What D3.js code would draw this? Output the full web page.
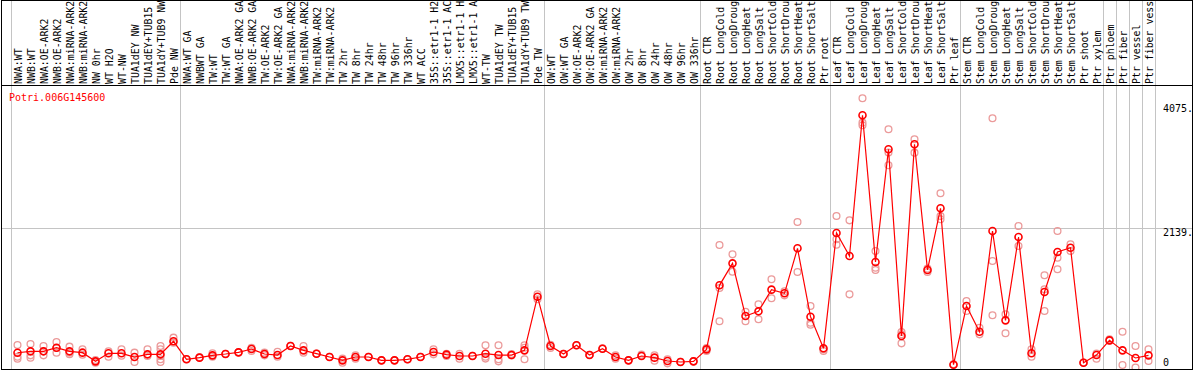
<!DOCTYPE html>
<html><head><meta charset="utf-8">
<script src="https://cdn.jsdelivr.net/npm/d3@7"></script>
<style>
html,body{margin:0;padding:0;background:#fff;}
svg{display:block;}
text{font-family:"DejaVu Sans Mono",monospace;}
</style></head>
<body>
<script>
const title = "Potri.006G145600";
const categories = ["NWA:WT","NWB:WT","NWA:OE-ARK2","NWB:OE-ARK2","NWA:miRNA-ARK2","NWB:miRNA-ARK2","NW 0hr","WT H2O","WT-NW","TUA1dEY NW","TUA1dEY+TUB15","TUA1dY+TUB9 NW","Pde NW",
"NWA:WT GA","NWBWT GA","TW:WT","TW:WT GA","NWA:OE-ARK2 GA","NWB:OE-ARK2 GA","TW:OE-ARK2","TW:OE-ARK2 GA","NWA:miRNA-ARK2","NWB:miRNA-ARK2","TW:miRNA-ARK2","TW:miRNA-ARK2","TW 2hr","TW 8hr","TW 24hr","TW 48hr","TW 96hr","TW 336hr","WT ACC","35S::etr1-1 H2","35S::etr1-1 AC","LMX5::etr1-1 H","LMX5::etr1-1 A","WT-TW","TUA1dEY TW","TUA1dEY+TUB15","TUA1dY+TUB9 TW","Pde TW",
"OW:WT","OW:WT GA","OW:OE-ARK2","OW:OE-ARK2 GA","OW:miRNA-ARK2","OW:miRNA-ARK2","OW 2hr","OW 8hr","OW 24hr","OW 48hr","OW 96hr","OW 336hr",
"Root CTR","Root LongCold","Root LongDroug","Root LongHeat","Root LongSalt","Root ShortCold","Root ShortDrou","Root ShortHeat","Root ShortSalt","Ptr root",
"Leaf CTR","Leaf LongCold","Leaf LongDroug","Leaf LongHeat","Leaf LongSalt","Leaf ShortCold","Leaf ShortDrou","Leaf ShortHeat","Leaf ShortSalt","Ptr leaf",
"Stem CTR","Stem LongCold","Stem LongDroug","Stem LongHeat","Stem LongSalt","Stem ShortCold","Stem ShortDrou","Stem ShortHeat","Stem ShortSalt","Ptr shoot","Ptr xylem",
"Ptr phloem","Ptr fiber","Ptr vessel","Ptr fiber vess"];
const groupSizes = [13, 28, 12, 10, 10, 11, 1, 1, 1, 1];
const means = [192,214,214,271,214,193,57,183,183,125,167,167,371,
89,115,151,172,198,250,172,156,297,229,177,125,73,125,125,73,73,89,125,203,162,141,141,177,156,156,229,1069,
297,172,308,156,255,125,73,141,115,63,47,57,
245,1247,1591,767,840,1179,1122,1826,756,261,
2066,1706,3908,1612,3376,454,3454,1487,2452,5,
923,521,2097,699,2003,183,1142,1768,1836,36,156,
386,229,110,151];
const replicates = [[313,130,99],[329,151,115],[297,214,151],[360,193,265],[287,192,170],[245,162],[78,36],[214,130],[245,146],[193,47],[245,140],[297,245,140,89,47],[428,350],
[89,95],[115,120],[183,130],[172,175],[198,200],[270,219],[193,151],[208,130],[297,300],[297,193],[177,180],[125,130],[99,36],[151,99],[125,130],[73,75],[73,75],[89,90],[125,130],[245,167],[177,141],[177,99],[141,145],[308,130,100],[308,89,57],[172,150],[308,270,89],[1106,1030],
[318,266],[172,175],[308,310],[156,160],[255,260],[151,99],[73,75],[162,141],[151,68],[89,26],[47,50],[57,60],
[266,219],[1878,1205,684],[1732,1460],[834,684],[949,715],[1341,1044],[1090,1154],[2238,1455],[923,662,631],[245,219],
[2332,1967,1883],[2264,1106],[4174,3793,3751],[1784,1523,1487],[3689,3324,3125],[517,480,339],[3532,3323],[1508,1455],[2687,2332,2280],[5,10],
[1002,845],[584,480],[3861,1628,778],[793,496],[2175,1862],[245,130],[1404,1185,845],[2097,1680,1498],[1888,1784],[36,40],[99,180],
[402,380],[521,0],[297,-40],[245,63]];
const tickValues = [0, 2139, 4075];
const tickLabels = ["0", "2139.", "4075."];
const gridValues = [2139];
const yTop = 4278.75;

const W = 1194, H = 370;
const frame = {left: 1.5, right: 1192.5, top: 0.5, bottom: 369.5, labelBottom: 85.5};
const plotLeft = 11, plotRight = 1155;
const svg = d3.select("body").append("svg").attr("width", W).attr("height", H);

const x = d3.scaleBand().domain(d3.range(categories.length)).range([plotLeft, plotRight]).padding(0);
const y = d3.scaleLinear().domain([0, yTop]).range([365, 91.6]);
const cx = i => x(i) + x.bandwidth() / 2;

svg.append("defs").append("clipPath").attr("id", "plotclip")
  .append("rect").attr("x", frame.left).attr("y", frame.labelBottom).attr("width", frame.right - frame.left).attr("height", frame.bottom - frame.labelBottom);

// gridlines
const gridG = svg.append("g").attr("shape-rendering", "crispEdges");
gridG.selectAll("line.h").data(gridValues).join("line")
  .attr("x1", frame.left).attr("x2", frame.right)
  .attr("y1", d => Math.round(y(d)) + 0.5).attr("y2", d => Math.round(y(d)) + 0.5)
  .attr("stroke", "#c4c4c4");
const bounds = [0];
groupSizes.forEach(s => bounds.push(bounds[bounds.length - 1] + s));
gridG.selectAll("line.v").data(bounds).join("line")
  .attr("x1", d => (d < categories.length ? x(d) : plotRight) + 0.5)
  .attr("x2", d => (d < categories.length ? x(d) : plotRight) + 0.5)
  .attr("y1", frame.top).attr("y2", frame.bottom)
  .attr("stroke", "#c4c4c4");

// category labels
svg.append("g")
  .selectAll("text").data(categories).join("text")
  .attr("transform", (d, i) => `translate(${cx(i) + 4},84) rotate(-90)`)
  .attr("font-size", "9.9px").attr("fill", "#000")
  .text(d => d);

// title
svg.append("text").attr("x", 9).attr("y", 101).attr("font-size", "10px").attr("fill", "#ff0000").text(title);

// axis labels
svg.append("g").selectAll("text").data(tickValues).join("text")
  .attr("x", 1163).attr("y", d => Math.min(y(d) + 7.5, 366))
  .attr("font-size", "10px").attr("fill", "#000")
  .text((d, i) => tickLabels[i]);

const plotG = svg.append("g").attr("clip-path", "url(#plotclip)");
// replicates
const repPts = [];
replicates.forEach((arr, i) => arr.forEach(v => repPts.push({i, v})));
plotG.selectAll("circle.rep").data(repPts).join("circle")
  .attr("cx", d => cx(d.i)).attr("cy", d => y(d.v)).attr("r", 3.4)
  .attr("fill", "none").attr("stroke", "#eb9a9a").attr("stroke-width", 1.3);
// mean line
plotG.append("path").datum(means)
  .attr("d", d3.line().x((d, i) => cx(i)).y(d => y(d)))
  .attr("fill", "none").attr("stroke", "#ff0000").attr("stroke-width", 1.2);
plotG.selectAll("circle.mean").data(means).join("circle")
  .attr("cx", (d, i) => cx(i)).attr("cy", d => y(d)).attr("r", 3.5)
  .attr("fill", "none").attr("stroke", "#ff0000").attr("stroke-width", 1.6);

// frame
const fr = svg.append("g").attr("shape-rendering", "crispEdges").attr("stroke", "#000").attr("fill", "none");
fr.append("rect").attr("x", frame.left).attr("y", frame.top).attr("width", frame.right - frame.left).attr("height", frame.bottom - frame.top).attr("stroke-width", 1.5);
fr.append("line").attr("x1", frame.left).attr("x2", frame.right).attr("y1", frame.labelBottom).attr("y2", frame.labelBottom).attr("stroke-width", 1.5);
</script>
</body></html>
